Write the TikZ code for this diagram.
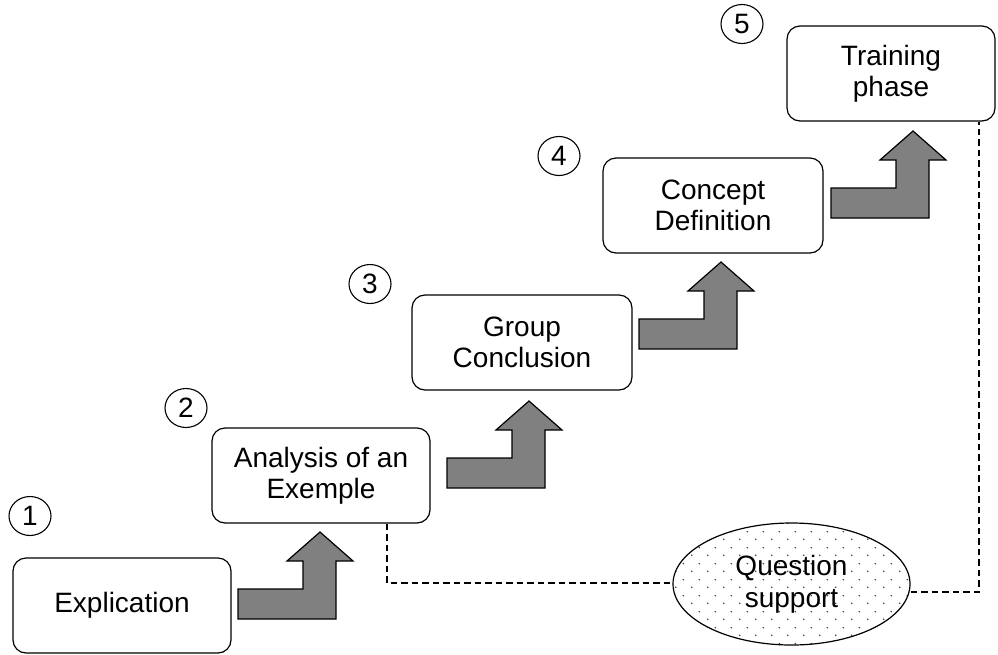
\documentclass[tikz,border=0pt]{standalone}
\usepackage{fontspec}
\setmainfont{Liberation Sans}
\usepackage{tikz}
\usetikzlibrary{shapes.geometric,patterns.meta}

\tikzdeclarepattern{
  name=qdots, type=uncolored,
  bounding box={(0pt,0pt) and (16pt,16pt)},
  tile size={(16pt,16pt)},
  code={\fill (4pt,4pt) circle (0.9pt); \fill (12pt,12pt) circle (0.9pt);}
}

\begin{document}
\begin{tikzpicture}[x=1pt,y=-1pt,line join=miter,
  stage/.style={draw,line width=1.2pt,rounded corners=13pt,minimum width=218pt,
    minimum height=95pt,align=center,inner sep=0pt,font=\fontsize{28}{31}\selectfont},
  num/.style={draw,ellipse,line width=1.1pt,minimum width=42pt,minimum height=39pt,
    inner sep=0pt,font=\fontsize{28}{28}\selectfont},
  link/.style={line width=1.2pt,dash pattern=on 6.5pt off 4pt}]
  \useasboundingbox (0,0) rectangle (998,654);
  \node[stage] (expl) at (122,605.5) {Explication};
  \node[stage] (anal) at (321,475.5) {Analysis of an\\Exemple};
  \node[stage,minimum width=220pt] (group) at (522,342.5) {Group\\Conclusion};
  \node[stage,minimum width=220pt] (concept) at (713,205.5) {Concept\\Definition};
  \node[stage,minimum width=208pt] (train) at (891,73.5) {Training\\phase};
  \foreach \n/\pos in {1/{30,516},2/{186,408},3/{370,284},4/{559,156},5/{742,24}}
    \node[num] (n\n) at (\pos) {\n};
  % Step-up block arrows between the stages.
  \foreach \bx/\by in {238/619,447/488,639/349,831/218}
    \draw[line width=1.2pt,fill=black!50] (\bx,\by) -- ++(98,0) -- ++(0,-58) -- ++(17,0)
      -- ++(-33,-29) -- ++(-33,29) -- ++(16,0) -- ++(0,28) -- ++(-65,0) -- cycle;
  \node[draw,ellipse,line width=1.2pt,pattern=qdots,pattern color=black!75,
    minimum width=237pt,minimum height=122pt,inner sep=0pt,align=center,
    font=\fontsize{28}{32}\selectfont] (quest) at (791.5,584) {Question\\support};
  \coordinate (qa) at (387,583);
  \coordinate (qb) at (979,592);
  \draw[link] (anal.south -| qa) -- (qa) -- (qa -| quest.west);
  \draw[link] (quest.east |- qb) -- (qb) -- (qb |- train.south);
\end{tikzpicture}
\end{document}
